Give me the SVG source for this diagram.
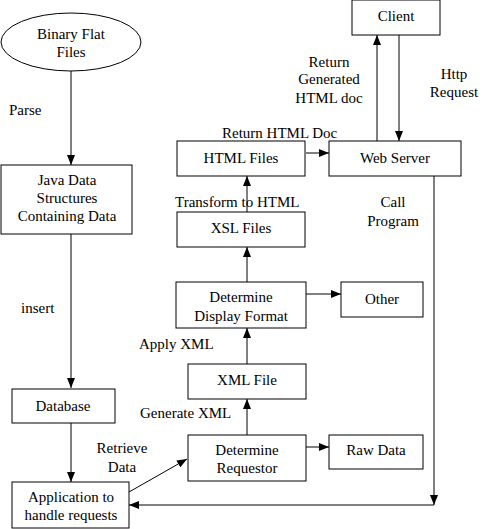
<svg xmlns="http://www.w3.org/2000/svg" width="499" height="529" viewBox="0 0 499 529" font-family="'Liberation Serif', 'DejaVu Serif', serif" font-size="15">
<defs>
<marker id="ah" markerWidth="10" markerHeight="8" refX="10" refY="4" orient="auto" markerUnits="userSpaceOnUse">
<path d="M0,0 L10,4 L0,8 Z" fill="#000"/>
</marker>
</defs>
<style>
.n{fill:#fff;stroke:#000;stroke-width:1}
text{font-family:'Liberation Serif','DejaVu Serif',serif;font-size:15px;fill:#000}
.c{text-anchor:middle}
.e{fill:none;stroke:#000;stroke-width:1}
.a{marker-end:url(#ah)}
</style>
<rect width="499" height="529" fill="#fff"/>
<g id="connectors">
<line class="e a" x1="71" y1="71" x2="71" y2="165"/>
<line class="e a" x1="71" y1="234" x2="71" y2="388"/>
<line class="e a" x1="71" y1="423" x2="71" y2="482"/>
<line class="e a" x1="129" y1="492" x2="187" y2="459"/>
<line class="e a" x1="247" y1="435" x2="247" y2="399"/>
<line class="e a" x1="247" y1="364" x2="247" y2="328"/>
<line class="e a" x1="247" y1="282" x2="247" y2="247"/>
<line class="e a" x1="247" y1="212" x2="247" y2="176"/>
<line class="e a" x1="306" y1="153" x2="329" y2="153"/>
<line class="e a" x1="377" y1="141" x2="377" y2="35"/>
<line class="e a" x1="399" y1="35" x2="399" y2="141"/>
<line class="e a" x1="306" y1="294" x2="341" y2="294"/>
<line class="e a" x1="306" y1="447" x2="329" y2="447"/>
<line class="e a" x1="434" y1="176" x2="434" y2="505"/>
<line class="e a" x1="434" y1="505" x2="129" y2="505"/>
</g>
<g id="labels">
<text x="9" y="115">Parse</text>
<text x="21" y="313">insert</text>
<text class="c" x="122" y="453">Retrieve</text>
<text class="c" x="122" y="472">Data</text>
<text x="140" y="418">Generate XML</text>
<text x="139" y="349">Apply XML</text>
<text x="175" y="207">Transform to HTML</text>
<text x="222" y="138">Return HTML Doc</text>
<text class="c" x="329" y="67">Return</text>
<text class="c" x="329" y="84">Generated</text>
<text class="c" x="329" y="103">HTML doc</text>
<text class="c" x="454" y="79">Http</text>
<text class="c" x="454" y="97">Request</text>
<text class="c" x="393" y="207">Call</text>
<text class="c" x="393" y="226">Program</text>
</g>
<g id="binary">
<ellipse class="n" cx="71" cy="42" rx="70" ry="29"/>
<text class="c" x="71" y="39">Binary Flat</text>
<text class="c" x="71" y="57">Files</text>
</g>
<g id="java">
<rect class="n" x="1" y="165" width="131" height="69"/>
<text class="c" x="67" y="185">Java Data</text>
<text class="c" x="67" y="203">Structures</text>
<text class="c" x="67" y="221">Containing Data</text>
</g>
<g id="database">
<rect class="n" x="12" y="389" width="103" height="34"/>
<text class="c" x="63" y="411">Database</text>
</g>
<g id="app">
<rect class="n" x="12" y="482" width="117" height="46"/>
<text class="c" x="71" y="502">Application to</text>
<text class="c" x="71" y="520">handle requests</text>
</g>
<g id="client">
<rect class="n" x="352" y="0" width="88" height="35"/>
<text class="c" x="396" y="21">Client</text>
</g>
<g id="html">
<rect class="n" x="177" y="141" width="128" height="35"/>
<text class="c" x="241" y="163">HTML Files</text>
</g>
<g id="webserver">
<rect class="n" x="329" y="141" width="132" height="35"/>
<text class="c" x="395" y="163">Web Server</text>
</g>
<g id="xsl">
<rect class="n" x="177" y="212" width="128" height="35"/>
<text class="c" x="241" y="233">XSL Files</text>
</g>
<g id="ddf">
<rect class="n" x="176" y="282" width="130" height="46"/>
<text class="c" x="241" y="302">Determine</text>
<text class="c" x="241" y="321">Display Format</text>
</g>
<g id="other">
<rect class="n" x="341" y="282" width="82" height="35"/>
<text class="c" x="382" y="304">Other</text>
</g>
<g id="xml">
<rect class="n" x="188" y="364" width="118" height="35"/>
<text class="c" x="247" y="385">XML File</text>
</g>
<g id="detreq">
<rect class="n" x="188" y="435" width="118" height="46"/>
<text class="c" x="247" y="455">Determine</text>
<text class="c" x="247" y="473">Requestor</text>
</g>
<g id="raw">
<rect class="n" x="329" y="435" width="94" height="34"/>
<text class="c" x="376" y="455">Raw Data</text>
</g>
</svg>
